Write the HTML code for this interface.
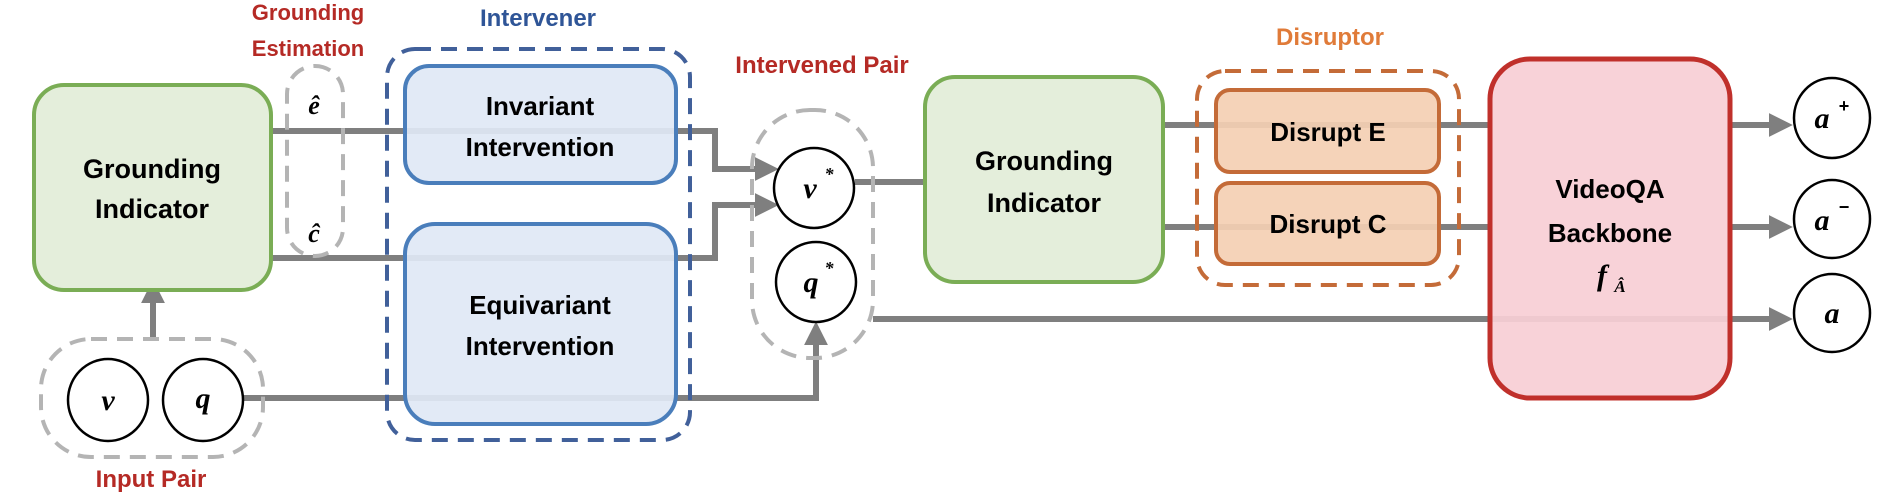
<!DOCTYPE html>
<html><head><meta charset="utf-8"><style>
html,body{margin:0;padding:0;background:#fff;}
svg{display:block;}
.t{font-family:"Liberation Sans",sans-serif;font-weight:bold;text-anchor:middle;}
.m{font-family:"Liberation Serif",serif;font-weight:bold;font-style:italic;text-anchor:middle;}
</style></head><body>
<svg width="1896" height="496" viewBox="0 0 1896 496" xmlns="http://www.w3.org/2000/svg">
<defs>
<marker id="ah" markerWidth="4" markerHeight="4" refX="2.2" refY="2" orient="auto" markerUnits="strokeWidth">
<path d="M0,0 L4,2 L0,4 Z" fill="#7f7f7f"/></marker>
</defs>
<g stroke="#7f7f7f" stroke-width="6" fill="none">
<!-- e line -->
<polyline points="271,131 715,131 715,169 768,169" marker-end="url(#ah)"/>
<!-- c line -->
<polyline points="271,258 715,258 715,205 768,205" marker-end="url(#ah)"/>
<!-- q line -->
<polyline points="243,398 816,398 816,332" marker-end="url(#ah)"/>
<!-- up arrow -->
<line x1="153" y1="339" x2="153" y2="290" marker-end="url(#ah)"/>
<!-- v* to GI2 -->
<line x1="855" y1="182" x2="925" y2="182"/>
<!-- GI2 to VideoQA -->
<line x1="1163" y1="125" x2="1490" y2="125"/>
<line x1="1163" y1="227" x2="1490" y2="227"/>
<!-- outputs -->
<polyline points="873,319 1782,319" marker-end="url(#ah)"/>
<line x1="1730" y1="125" x2="1782" y2="125" marker-end="url(#ah)"/>
<line x1="1730" y1="227" x2="1782" y2="227" marker-end="url(#ah)"/>
</g>
<!-- Grounding Estimation pill -->
<rect x="287" y="66" width="56" height="190" rx="28" fill="none" stroke="#b4b4b4" stroke-width="4" stroke-dasharray="16,10"/>
<!-- Intervener -->
<rect x="387" y="49" width="303" height="391" rx="28" fill="none" stroke="#41609a" stroke-width="4" stroke-dasharray="16,10"/>
<!-- GI1 -->
<rect x="34" y="85" width="237" height="205" rx="30" fill="#e4eedb" stroke="#7aad55" stroke-width="4"/>
<text class="t" x="152" y="178" font-size="27">Grounding</text>
<text class="t" x="152" y="218" font-size="27">Indicator</text>
<!-- Invariant -->
<rect x="405" y="66" width="271" height="117" rx="24" fill="#dfe8f5" fill-opacity="0.92" stroke="#4a7ebb" stroke-width="4"/>
<text class="t" x="540" y="115" font-size="26">Invariant</text>
<text class="t" x="540" y="156" font-size="26">Intervention</text>
<!-- Equivariant -->
<rect x="405" y="224" width="271" height="200" rx="30" fill="#dfe8f5" fill-opacity="0.92" stroke="#4a7ebb" stroke-width="4"/>
<text class="t" x="540" y="314" font-size="26">Equivariant</text>
<text class="t" x="540" y="355" font-size="26">Intervention</text>
<text class="m" x="314" y="114" font-size="26">ê</text>
<text class="m" x="314" y="242" font-size="26">ĉ</text>
<!-- labels -->
<text class="t" x="308" y="20" font-size="22" fill="#b52a25">Grounding</text>
<text class="t" x="308" y="56" font-size="22" fill="#b52a25">Estimation</text>
<text class="t" x="538" y="26" font-size="24" fill="#2f5597">Intervener</text>
<text class="t" x="822" y="73" font-size="24" fill="#b52a25">Intervened Pair</text>
<text class="t" x="151" y="487" font-size="24" fill="#b52a25">Input Pair</text>
<text class="t" x="1330" y="45" font-size="24" fill="#e07b39">Disruptor</text>
<!-- Input pair -->
<rect x="41" y="339" width="222" height="118" rx="50" fill="none" stroke="#b4b4b4" stroke-width="4" stroke-dasharray="16,10"/>
<ellipse cx="108" cy="400" rx="40" ry="41" fill="#fff" stroke="#000" stroke-width="2.5"/>
<ellipse cx="203" cy="400" rx="40" ry="41" fill="#fff" stroke="#000" stroke-width="2.5"/>
<text class="m" x="108" y="410" font-size="30">v</text>
<text class="m" x="203" y="408" font-size="30">q</text>
<!-- Intervened pair -->
<rect x="752" y="110" width="121" height="248" rx="58" fill="none" stroke="#b4b4b4" stroke-width="4" stroke-dasharray="16,10"/>
<circle cx="814" cy="188" r="40" fill="#fff" stroke="#000" stroke-width="2.5"/>
<circle cx="816" cy="282" r="40" fill="#fff" stroke="#000" stroke-width="2.5"/>
<text class="m" x="810" y="198" font-size="30">v</text><text class="m" x="829" y="180" font-size="18">*</text>
<text class="m" x="811" y="292" font-size="30">q</text><text class="m" x="829" y="274" font-size="18">*</text>
<!-- GI2 -->
<rect x="925" y="77" width="238" height="205" rx="30" fill="#e4eedb" stroke="#7aad55" stroke-width="4"/>
<text class="t" x="1044" y="170" font-size="27">Grounding</text>
<text class="t" x="1044" y="212" font-size="27">Indicator</text>
<!-- Disruptor -->
<rect x="1197" y="71" width="262" height="214" rx="28" fill="none" stroke="#c46b38" stroke-width="4" stroke-dasharray="16,10"/>
<rect x="1216" y="90" width="223" height="82" rx="14" fill="#f4cfb3" fill-opacity="0.92" stroke="#c46b38" stroke-width="4"/>
<rect x="1216" y="183" width="223" height="81" rx="14" fill="#f4cfb3" fill-opacity="0.92" stroke="#c46b38" stroke-width="4"/>
<text class="t" x="1328" y="141" font-size="26">Disrupt E</text>
<text class="t" x="1328" y="233" font-size="26">Disrupt C</text>
<!-- VideoQA -->
<rect x="1490" y="59" width="240" height="339" rx="40" fill="#f8cfd5" fill-opacity="0.93" stroke="#c0302b" stroke-width="5"/>
<text class="t" x="1610" y="198" font-size="26">VideoQA</text>
<text class="t" x="1610" y="242" font-size="26">Backbone</text>
<text class="m" x="1602" y="285" font-size="30">f</text>
<text class="m" x="1620" y="292" font-size="17">Â</text>
<!-- outputs -->
<ellipse cx="1832" cy="118" rx="38" ry="40" fill="#fff" stroke="#000" stroke-width="2.5"/>
<ellipse cx="1832" cy="219" rx="38" ry="39" fill="#fff" stroke="#000" stroke-width="2.5"/>
<ellipse cx="1832" cy="313" rx="38" ry="39" fill="#fff" stroke="#000" stroke-width="2.5"/>
<text class="m" x="1822" y="128" font-size="30">a</text><text class="t" x="1844" y="112" font-size="18" font-weight="normal">+</text>
<text class="m" x="1822" y="230" font-size="30">a</text><text class="t" x="1844" y="213" font-size="18" font-weight="normal">−</text>
<text class="m" x="1832" y="323" font-size="30">a</text>
</svg>
</body></html>
